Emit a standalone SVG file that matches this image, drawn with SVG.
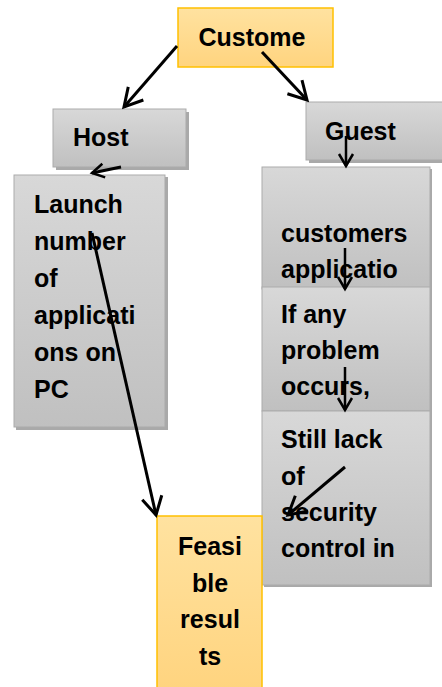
<svg xmlns="http://www.w3.org/2000/svg" width="442" height="687" viewBox="0 0 442 687">
<style>
.t{font-family:"Liberation Sans",Arial,sans-serif;font-weight:bold;font-size:25px;fill:#000}
.c{text-anchor:middle}
.g{fill:url(#gg);stroke:#ababab;stroke-width:1}
.o{fill:url(#og);stroke:#ffc000;stroke-width:1.5}
.sh{fill:#a9a9a9}
.ln{stroke:#000;stroke-width:3;fill:none}
.sm{stroke:#000;stroke-width:2.5;fill:none}
</style>
<defs>
<linearGradient id="gg" x1="0" y1="0" x2="0" y2="1"><stop offset="0" stop-color="#d8d8d8"/><stop offset="1" stop-color="#c0c0c0"/></linearGradient>
<linearGradient id="og" x1="0" y1="0" x2="0" y2="1"><stop offset="0" stop-color="#ffe2a0"/><stop offset="1" stop-color="#ffd47f"/></linearGradient>
<marker id="big" markerUnits="userSpaceOnUse" viewBox="-22 -12 26 24" refX="0" refY="0" markerWidth="26" markerHeight="24" orient="auto"><path d="M-18,-10 L0,0 L-18,10" stroke="#000" stroke-width="3" fill="none"/></marker>
<marker id="sml" markerUnits="userSpaceOnUse" viewBox="-16 -10 20 20" refX="0" refY="0" markerWidth="20" markerHeight="20" orient="auto"><path d="M-12,-7 L0,0 L-12,7" stroke="#000" stroke-width="2.5" fill="none"/></marker>
</defs>
<g id="customer"><rect class="o" x="178" y="8" width="155" height="59"/><text class="t c" x="252" y="46">Custome</text></g>
<g id="host"><rect class="sh" x="56" y="112" width="133" height="58"/><rect class="g" x="53" y="109" width="133" height="58"/><text class="t" x="73" y="146">Host</text></g>
<g id="guest"><rect class="sh" x="309" y="105" width="136" height="58"/><rect class="g" x="306" y="102" width="140" height="58"/><text class="t" x="325" y="140">Guest</text></g>
<g id="launch"><rect class="sh" x="16" y="177" width="152" height="253"/><rect class="g" x="14" y="175" width="151" height="252"/><text class="t" x="34" y="213">Launch</text><text class="t" x="34" y="250">number</text><text class="t" x="34" y="287">of</text><text class="t" x="34" y="324">applicati</text><text class="t" x="34" y="361">ons on</text><text class="t" x="34" y="398">PC</text></g>
<g id="customers"><rect class="sh" x="264" y="169" width="168" height="122"/><rect class="g" x="262" y="167" width="168" height="122"/><text class="t" x="281" y="242">customers</text><text class="t" x="281" y="278">applicatio</text></g>
<g id="problem"><rect class="sh" x="264" y="289" width="168" height="124"/><rect class="g" x="262" y="287" width="168" height="124"/><text class="t" x="281" y="323">If any</text><text class="t" x="281" y="359">problem</text><text class="t" x="281" y="395">occurs,</text></g>
<g id="lack"><rect class="sh" x="264" y="413" width="168" height="174"/><rect class="g" x="262" y="411" width="168" height="174"/><text class="t" x="281" y="448">Still lack</text><text class="t" x="281" y="485">of</text><text class="t" x="281" y="521">security</text><text class="t" x="281" y="557">control in</text></g>
<g id="feasible"><rect class="o" x="157" y="516" width="105" height="175"/><text class="t c" x="210" y="555">Feasi</text><text class="t c" x="210" y="592">ble</text><text class="t c" x="210" y="628">resul</text><text class="t c" x="210" y="665">ts</text></g>
<g id="connectors">
<line class="ln" x1="177" y1="46" x2="124" y2="107" marker-end="url(#big)"/>
<line class="ln" x1="262" y1="52" x2="307" y2="100" marker-end="url(#big)"/>
<line class="ln" x1="121" y1="167" x2="92" y2="173" marker-end="url(#sml)"/>
<line class="sm" x1="346" y1="136" x2="346" y2="166" marker-end="url(#sml)"/>
<line class="sm" x1="345" y1="248" x2="345" y2="289" marker-end="url(#sml)"/>
<line class="sm" x1="345" y1="367" x2="345" y2="410" marker-end="url(#sml)"/>
<line class="ln" x1="345" y1="467" x2="288" y2="515" marker-end="url(#big)"/>
<line class="ln" x1="92" y1="233" x2="156" y2="515" marker-end="url(#big)"/>
</g>
</svg>
